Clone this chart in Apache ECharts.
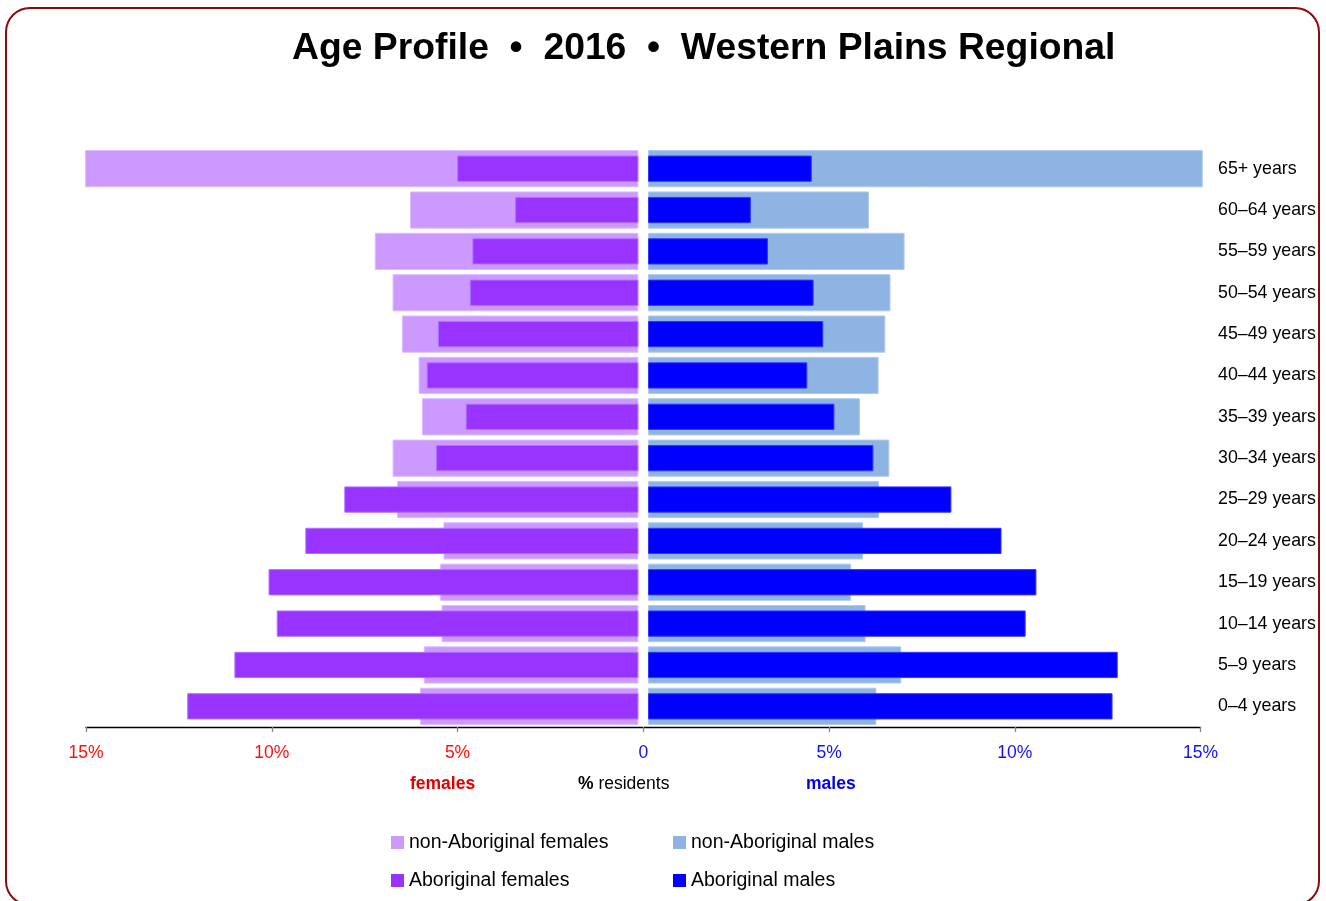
<!DOCTYPE html>
<html>
<head>
<meta charset="utf-8">
<title>Age Profile 2016 Western Plains Regional</title>
<script src="https://cdn.jsdelivr.net/npm/echarts@6/dist/echarts.min.js"></script>
<style>
  html, body { margin: 0; padding: 0; background: #fff; overflow: hidden; }
  #frame {
    position: absolute; left: 4.7px; top: 7.3px; width: 1311px; height: 895px;
    border: 2.6px solid #8c0b0b; border-radius: 25px; pointer-events: none;
  }
  #chart { position: absolute; left: 0; top: 0; width: 1326px; height: 901px; }
</style>
</head>
<body>
<div id="chart"></div>
<div id="frame"></div>
<script>
// age groups, top of pyramid first
var ageGroups = ['65+ years', '60–64 years', '55–59 years', '50–54 years', '45–49 years',
  '40–44 years', '35–39 years', '30–34 years', '25–29 years', '20–24 years',
  '15–19 years', '10–14 years', '5–9 years', '0–4 years'];

// % of residents
var nonAbFemales = [14.9, 6.15, 7.10, 6.62, 6.37, 5.92, 5.83, 6.62, 6.50, 5.25, 5.34, 5.30, 5.78, 5.88];
var abFemales    = [4.88, 3.32, 4.47, 4.54, 5.40, 5.70, 4.65, 5.45, 7.92, 8.97, 9.96, 9.74, 10.88, 12.15];
var nonAbMales   = [14.94, 5.95, 6.91, 6.53, 6.39, 6.21, 5.71, 6.50, 6.22, 5.79, 5.47, 5.86, 6.82, 6.15];
var abMales      = [4.41, 2.77, 3.23, 4.46, 4.72, 4.29, 5.02, 6.07, 8.17, 9.52, 10.46, 10.17, 12.65, 12.51];

var axisMin = -15, axisMax = 15, axisStep = 5;

var font = "'Liberation Sans', Arial, sans-serif";

var myChart = echarts.init(document.getElementById('chart'));

function catAxis(grid, show) {
  return {
    type: 'category', gridIndex: grid, data: ageGroups, inverse: true,
    position: 'right',
    axisLine: { show: false }, axisTick: { show: false },
    axisLabel: { show: show, color: '#000', fontFamily: font, fontSize: 17.8, margin: 13, align: 'left' }
  };
}

var option = {
  animation: false,
  title: {
    text: 'Age Profile  •  2016  •  Western Plains Regional',
    left: 292, top: 30, padding: 0,
    textStyle: { fontFamily: font, fontWeight: 'bold', fontSize: 37.3, color: '#000' }
  },
  legend: [{
    orient: 'vertical', left: 391, top: 832.5, padding: 0, itemGap: 18,
    itemWidth: 13, itemHeight: 13, icon: 'rect',
    itemStyle: { borderWidth: 0 },
    data: ['non-Aboriginal females', 'Aboriginal females'],
    textStyle: { fontFamily: font, fontSize: 19.5, lineHeight: 19.5, color: '#000' }
  }, {
    orient: 'vertical', left: 673, top: 832.5, padding: 0, itemGap: 18,
    itemWidth: 13, itemHeight: 13, icon: 'rect',
    itemStyle: { borderWidth: 0 },
    data: ['non-Aboriginal males', 'Aboriginal males'],
    textStyle: { fontFamily: font, fontSize: 19.5, lineHeight: 19.5, color: '#000' }
  }],
  grid: [
    { left: 81.4, width: 557, top: 148, height: 579, outerBoundsMode: 'none' },
    { left: 648, width: 557, top: 148, height: 579, outerBoundsMode: 'none' },
    { left: 86, width: 1114.6, top: 717, height: 10, outerBoundsMode: 'none' }
  ],
  xAxis: [
    { type: 'value', gridIndex: 0, min: 0, max: 15, inverse: true, show: false },
    { type: 'value', gridIndex: 1, min: 0, max: 15, show: false },
    {
      type: 'value', gridIndex: 2, min: axisMin, max: axisMax, interval: axisStep,
      axisLine: { show: true, lineStyle: { color: '#000', width: 1.3 } },
      axisTick: { show: true, length: 5, lineStyle: { color: '#888', width: 1.3 } },
      splitLine: { show: false },
      axisLabel: {
        margin: 17.5, fontFamily: font, fontSize: 17.5,
        formatter: function (v) { return v === 0 ? '0' : Math.abs(v) + '%'; },
        color: function (v) { return Number(v) < 0 ? '#ff1010' : '#1010ff'; }
      }
    }
  ],
  yAxis: [
    catAxis(0, false), catAxis(0, false),
    catAxis(1, true), catAxis(1, false),
    { type: 'value', gridIndex: 2, show: false }
  ],
  graphic: [
    { type: 'text', left: 410, top: 775, style: { text: 'females', fill: '#e00000', font: 'bold 17.5px ' + font } },
    { type: 'text', left: 578, top: 775, style: {
        text: '{b|%} residents', fill: '#000', font: '17.5px ' + font,
        rich: { b: { fontWeight: 'bold', fontFamily: font, fontSize: 17.5, fill: '#000' } } } },
    { type: 'text', left: 806, top: 775, style: { text: 'males', fill: '#0000ee', font: 'bold 17.5px ' + font } }
  ],
  series: [
    {
      name: 'non-Aboriginal females', type: 'bar', xAxisIndex: 0, yAxisIndex: 0,
      barWidth: '90%', data: nonAbFemales, z: 2,
      itemStyle: { color: '#cc99ff', borderColor: '#ddbbff', borderWidth: 1 }
    },
    {
      name: 'Aboriginal females', type: 'bar', xAxisIndex: 0, yAxisIndex: 1,
      barWidth: '63.5%', data: abFemales, z: 3,
      itemStyle: { color: '#9933ff', borderColor: '#b070ff', borderWidth: 1 }
    },
    {
      name: 'non-Aboriginal males', type: 'bar', xAxisIndex: 1, yAxisIndex: 2,
      barWidth: '90%', data: nonAbMales, z: 2,
      itemStyle: { color: '#8eb4e3', borderColor: '#b0cbee', borderWidth: 1 }
    },
    {
      name: 'Aboriginal males', type: 'bar', xAxisIndex: 1, yAxisIndex: 3,
      barWidth: '63.5%', data: abMales, z: 3,
      itemStyle: { color: '#0000ff', borderColor: '#3535ff', borderWidth: 1 }
    }
  ]
};

myChart.setOption(option);
window.addEventListener('resize', function () { myChart.resize(); });
</script>
</body>
</html>
